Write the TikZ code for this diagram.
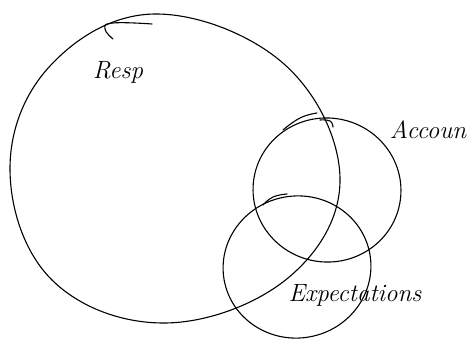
\documentclass[tikz,border=0pt]{standalone}
\usepackage{tikz}
\tikzset{
    setlabel/.style={
        font=\fontsize{25}{25}\selectfont\itshape,
        inner sep=1pt
    },
    setline/.style={
        line width=1.1pt,
        line join=round,
        line cap=round
    }
}

\begin{document}
\begin{tikzpicture}
[
    x=1pt,
    y=-1pt,
]
\useasboundingbox (0,0) rectangle (476,344);
% Resp
\draw[setline] plot[smooth cycle, tension=0.65] coordinates {
    (10,170) (50,66) (155,14) (284,64) (340,178) (288,278)
    (165,323) (52,280)
};
\draw[setline] plot[smooth, tension=0.8] coordinates {(113,39) (105,29) (113,23) (152,24)};
% Accoun
\draw[setline, rotate around={-8:(327,190)}] (327,190) ellipse [x radius=74, y radius=72];
\draw[setline] plot[smooth, tension=0.8] coordinates {(283,130) (300,118) (317,113)};
\draw[setline] plot[smooth, tension=0.8] coordinates {(320,120) (330,121) (333,127)};
% Expectations
\draw[setline, rotate around={10:(297,267)}] (297,267) ellipse [x radius=74, y radius=71];
\draw[setline] plot[smooth, tension=0.8] coordinates {(263,205) (273,197) (287,194)};
% labels
\node[setlabel] (resp) at (118,72) {Resp};
\node[setlabel] (accoun) at (428,130) {Accoun};
\node[setlabel] (expect) at (355,295) {Expectations};
\end{tikzpicture}
\end{document}
